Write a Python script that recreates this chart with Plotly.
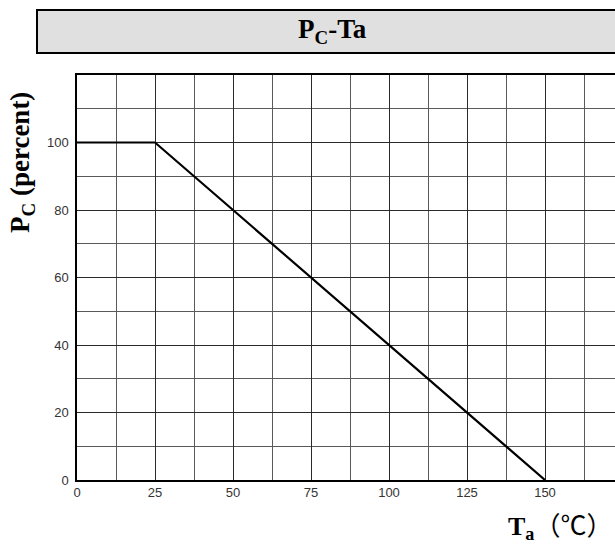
import plotly.graph_objects as go

ta = [0, 25, 150]
pc = [100, 100, 0]
x_ticks = [0, 25, 50, 75, 100, 125, 150]
y_ticks = [0, 20, 40, 60, 80, 100]

fig = go.Figure()
fig.add_trace(go.Scatter(x=ta, y=pc, mode="lines",
                         line=dict(color="black", width=2.2), showlegend=False))

L, T, B = 77, 75, 64
W, H = 615, 544
pw = W - L
ph = H - T - B

def px(x):
    return (x - L) / pw

def py(y):
    return (H - B - y) / ph

fig.update_layout(
    width=W, height=H,
    margin=dict(l=L, r=0, t=T, b=B),
    plot_bgcolor="white", paper_bgcolor="white",
    xaxis=dict(range=[0, pw / (390 / 125)], tickmode="array", tickvals=x_ticks,
               showgrid=True, gridcolor="#2a2a2a", gridwidth=1,
               minor=dict(tickmode="linear", tick0=0, dtick=12.5, showgrid=True,
                          gridcolor="#5a5a5a", gridwidth=1),
               showline=True, linecolor="black", linewidth=1.5, mirror=True,
               ticks="", zeroline=False,
               tickfont=dict(family="Liberation Sans, Arial", size=13, color="#333")),
    yaxis=dict(range=[0, 120], tickmode="array", tickvals=y_ticks,
               showgrid=True, gridcolor="#2a2a2a", gridwidth=1,
               minor=dict(tickmode="linear", tick0=0, dtick=10, showgrid=True,
                          gridcolor="#5a5a5a", gridwidth=1),
               showline=True, linecolor="black", linewidth=1.5,
               ticks="", zeroline=False, ticklabelstandoff=4,
               tickfont=dict(family="Liberation Sans, Arial", size=13, color="#333")),
    shapes=[dict(type="rect", xref="paper", yref="paper",
                 x0=px(37), x1=px(640), y0=py(53), y1=py(10),
                 fillcolor="#e0e0e0", line=dict(color="black", width=2), layer="above")],
    annotations=[
        dict(text="<b>P<sub>C</sub>-Ta</b>", xref="paper", yref="paper",
             x=px(332), y=py(31), xanchor="center", yanchor="middle", showarrow=False,
             font=dict(family="Liberation Serif, Times New Roman", size=27, color="black")),
        dict(text="<b>P<sub>C</sub> (percent)</b>", xref="paper", yref="paper",
             x=px(22), y=py(163), xanchor="center", yanchor="middle",
             textangle=-90, showarrow=False,
             font=dict(family="Liberation Serif, Times New Roman", size=27, color="black")),
        dict(text="<b>T<sub>a</sub></b><span style=\"font-family:'Noto Sans CJK SC'\">（℃）</span>",
             xref="paper", yref="paper",
             x=px(614), y=py(524), xanchor="right", yanchor="middle", showarrow=False,
             font=dict(family="Liberation Serif, Noto Sans CJK SC", size=26, color="black")),
    ],
)

fig.write_html("out.html", config={"displayModeBar": False},
               post_script="document.body.style.margin='0';document.body.style.overflow='hidden';")
